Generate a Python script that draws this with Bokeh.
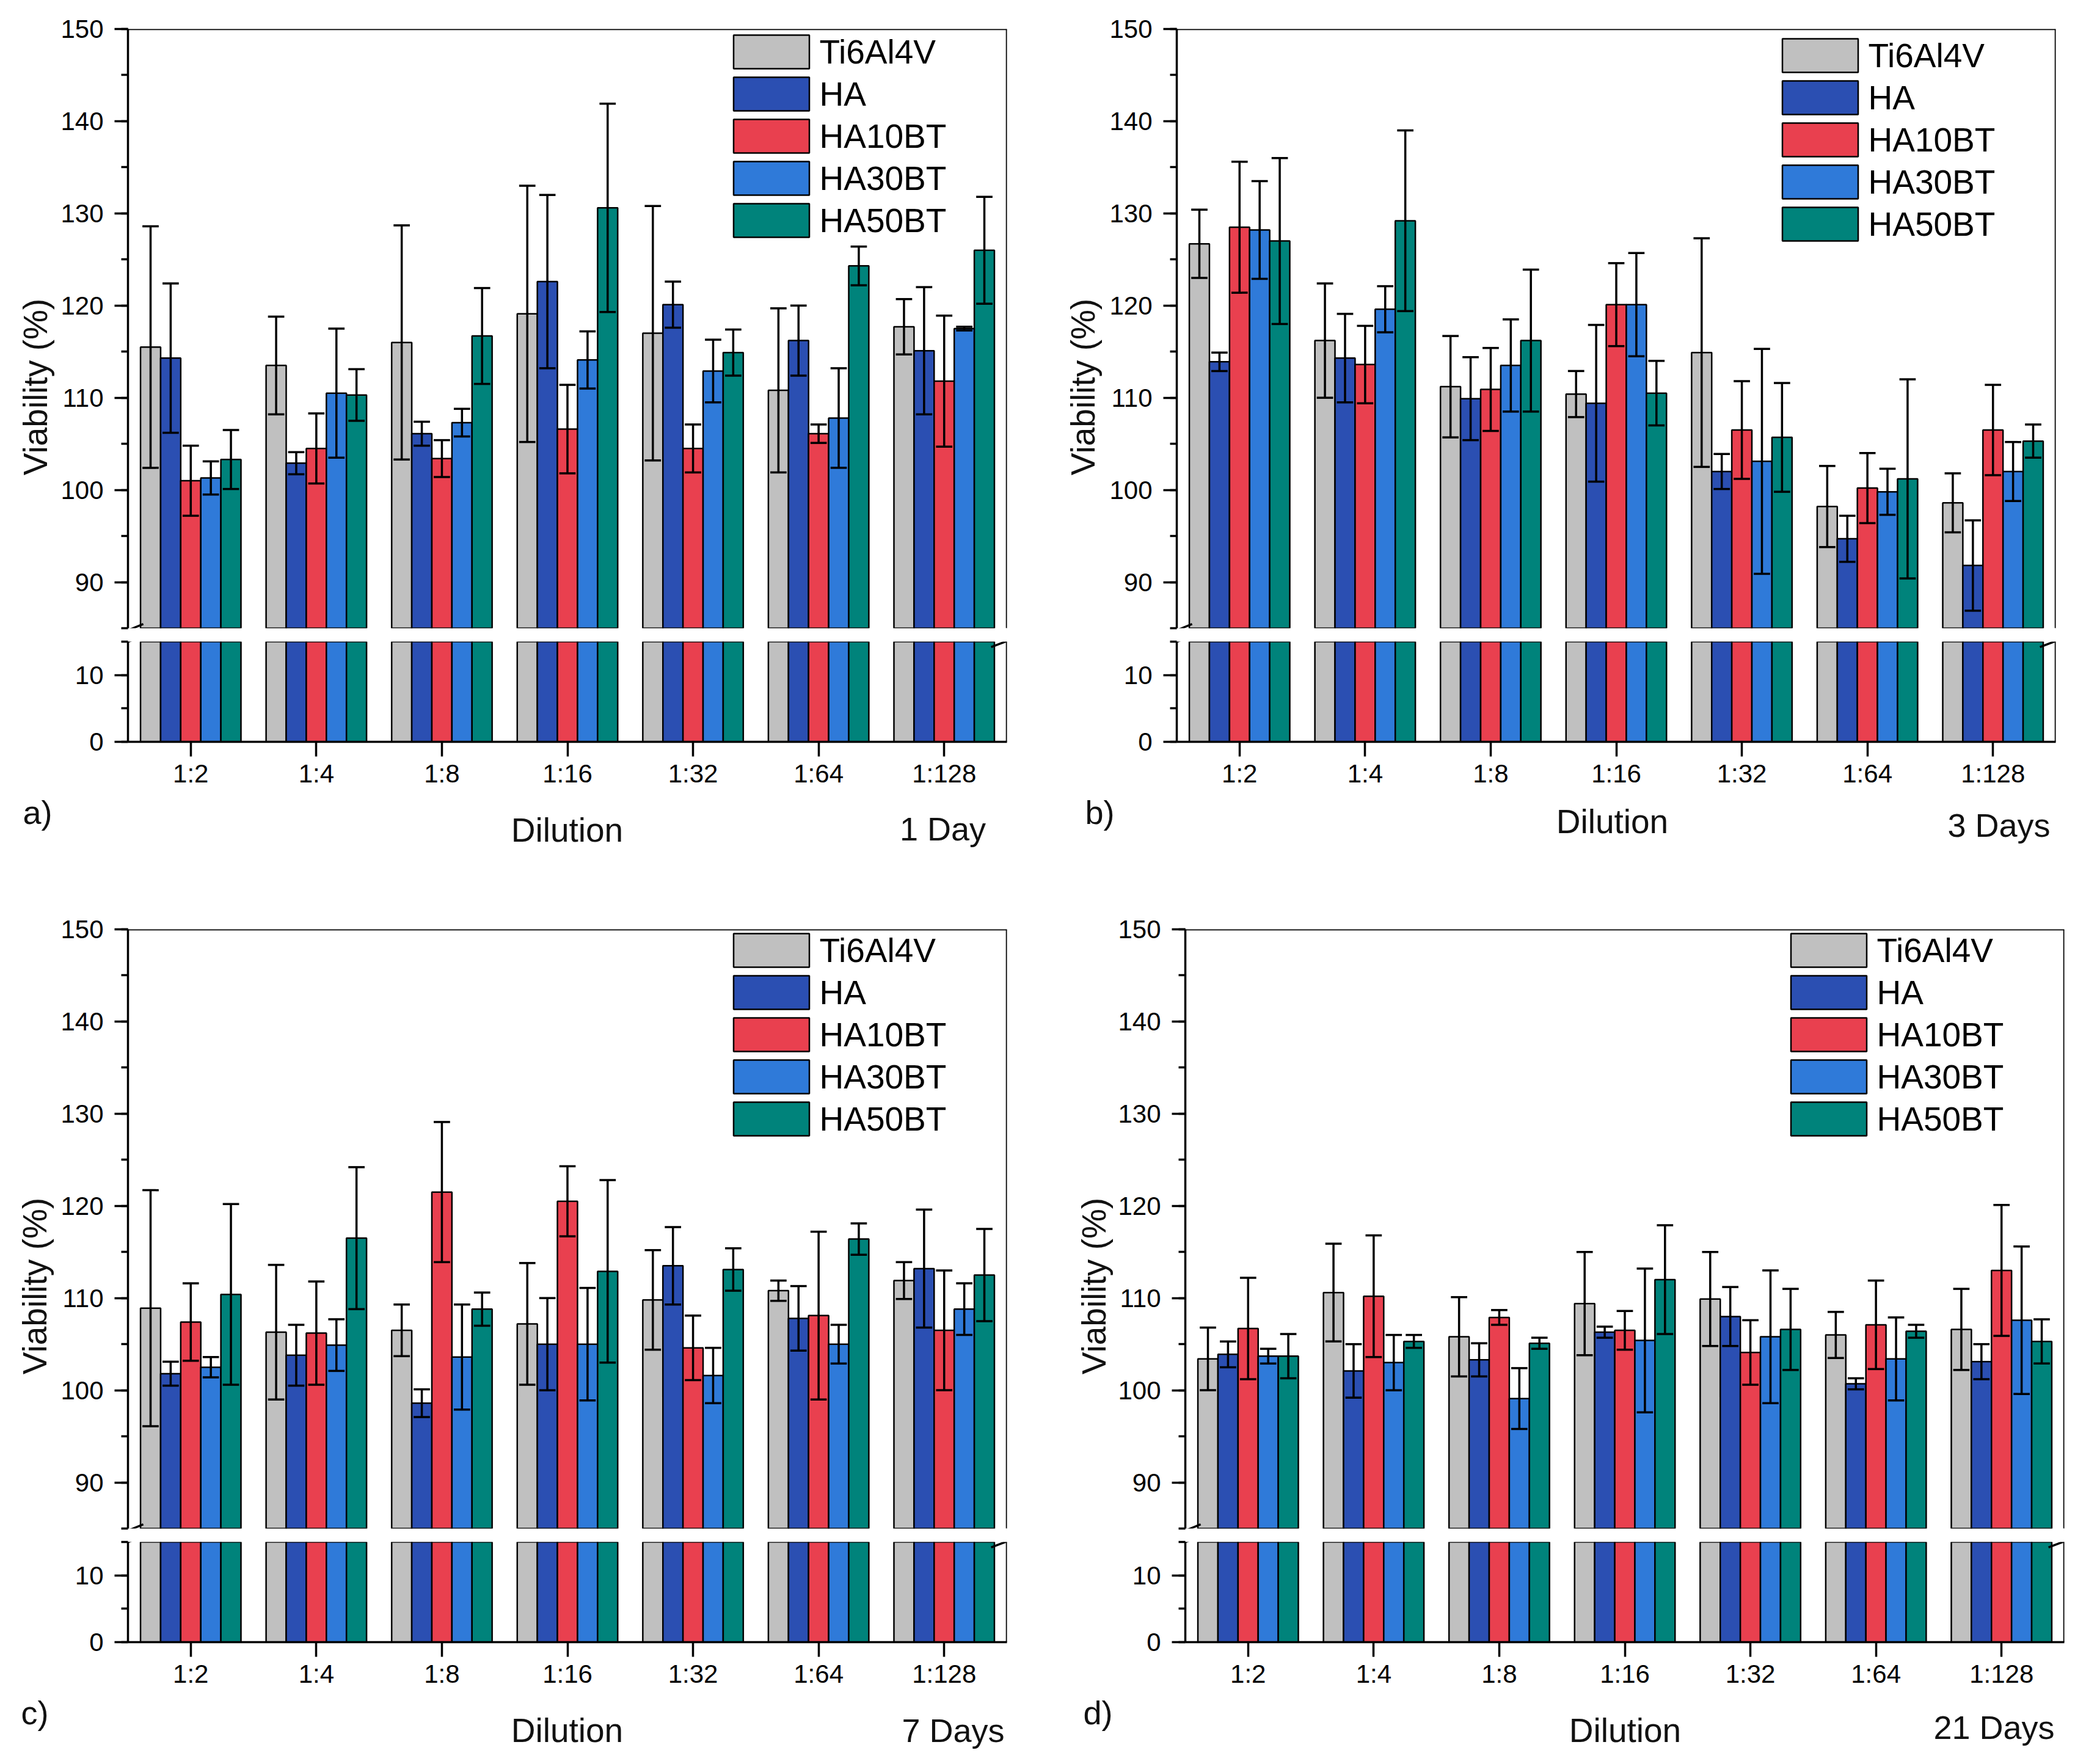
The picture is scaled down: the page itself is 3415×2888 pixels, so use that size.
import math
from bokeh.plotting import figure
from bokeh.models import (FactorRange, Range1d, ColumnDataSource, LinearAxis, CategoricalAxis,
                          SingleIntervalTicker, Legend, LegendItem, Arrow, Span)
from bokeh.core.properties import value
from bokeh.transform import dodge
from bokeh.layouts import row, column
from bokeh.embed import file_html
from bokeh.resources import INLINE

# ---------------- data ----------------
dilutions = ["1:2", "1:4", "1:8", "1:16", "1:32", "1:64", "1:128"]
materials = ["Ti6Al4V", "HA", "HA10BT", "HA30BT", "HA50BT"]
colors = ["#C0C0C0", "#2B4FB2", "#E9404F", "#2F7AD9", "#00837B"]

# a) 1 Day
day1_ti = [115.5, 113.5, 116.0, 119.1, 117.0, 110.8, 117.7]
day1_ti_err = [13.1, 5.3, 12.7, 13.9, 13.8, 8.9, 3.0]
day1_ha = [114.3, 102.9, 106.1, 122.6, 120.1, 116.2, 115.1]
day1_ha_err = [8.1, 1.2, 1.3, 9.4, 2.5, 3.8, 6.9]
day1_ha10 = [101.0, 104.5, 103.4, 106.6, 104.5, 106.1, 111.8]
day1_ha10_err = [3.8, 3.8, 2.0, 4.8, 2.6, 1.0, 7.1]
day1_ha30 = [101.3, 110.5, 107.3, 114.1, 112.9, 107.8, 117.5]
day1_ha30_err = [1.8, 7.0, 1.5, 3.1, 3.4, 5.4, 0.2]
day1_ha50 = [103.3, 110.3, 116.7, 130.6, 114.9, 124.3, 126.0]
day1_ha50_err = [3.2, 2.8, 5.2, 11.3, 2.5, 2.1, 5.8]

# b) 3 Days
day3_ti = [126.7, 116.2, 111.2, 110.4, 114.9, 98.2, 98.6]
day3_ti_err = [3.7, 6.2, 5.5, 2.5, 12.4, 4.4, 3.2]
day3_ha = [113.9, 114.3, 109.9, 109.4, 102.0, 94.7, 91.8]
day3_ha_err = [1.0, 4.8, 4.5, 8.5, 1.9, 2.5, 4.9]
day3_ha10 = [128.5, 113.6, 110.9, 120.1, 106.5, 100.2, 106.5]
day3_ha10_err = [7.1, 4.2, 4.5, 4.5, 5.3, 3.8, 4.9]
day3_ha30 = [128.2, 119.6, 113.5, 120.1, 103.1, 99.8, 102.0]
day3_ha30_err = [5.3, 2.5, 5.0, 5.6, 12.2, 2.5, 3.2]
day3_ha50 = [127.0, 129.2, 116.2, 110.5, 105.7, 101.2, 105.3]
day3_ha50_err = [9.0, 9.8, 7.7, 3.5, 5.9, 10.8, 1.8]

# c) 7 Days
day7_ti = [108.9, 106.3, 106.5, 107.2, 109.8, 110.8, 111.9]
day7_ti_err = [12.8, 7.3, 2.8, 6.6, 5.4, 1.1, 2.0]
day7_ha = [101.8, 103.8, 98.6, 105.0, 113.5, 107.8, 113.2]
day7_ha_err = [1.3, 3.3, 1.5, 5.0, 4.2, 3.5, 6.4]
day7_ha10 = [107.4, 106.2, 121.5, 120.5, 104.6, 108.1, 106.5]
day7_ha10_err = [4.2, 5.6, 7.6, 3.8, 3.5, 9.1, 6.5]
day7_ha30 = [102.5, 104.9, 103.6, 105.0, 101.6, 105.0, 108.8]
day7_ha30_err = [1.1, 2.8, 5.7, 6.1, 3.0, 2.1, 2.8]
day7_ha50 = [110.4, 116.5, 108.8, 112.9, 113.1, 116.4, 112.5]
day7_ha50_err = [9.8, 7.7, 1.8, 9.9, 2.3, 1.7, 5.0]

# d) 21 Days
day21_ti = [103.4, 110.6, 105.8, 109.4, 109.9, 106.0, 106.6]
day21_ti_err = [3.4, 5.3, 4.3, 5.6, 5.1, 2.5, 4.4]
day21_ha = [103.9, 102.1, 103.3, 106.3, 108.0, 100.7, 103.1]
day21_ha_err = [1.4, 2.9, 1.8, 0.6, 3.2, 0.6, 1.9]
day21_ha10 = [106.7, 110.2, 107.9, 106.5, 104.1, 107.1, 113.0]
day21_ha10_err = [5.5, 6.6, 0.8, 2.1, 3.5, 4.8, 7.1]
day21_ha30 = [103.7, 103.0, 99.1, 105.4, 105.8, 103.4, 107.6]
day21_ha30_err = [0.8, 3.0, 3.3, 7.8, 7.2, 4.5, 8.0]
day21_ha50 = [103.7, 105.3, 105.1, 112.0, 106.6, 106.4, 105.3]
day21_ha50_err = [2.4, 0.7, 0.6, 5.9, 4.4, 0.7, 2.4]

# ---------------- styling ----------------
FONT = "Liberation Sans"
FW = 1439          # frame width
UP_H = 981         # upper frame height (85..150)
LO_H = 164         # lower frame height (0..15)
GAP = 11           # half of the axis-break gap
LO_BOTTOM = 82
OFFSETS = [-0.32, -0.16, 0.0, 0.16, 0.32]
BAR_W = 0.16
CAP = 0.065
LW = 3.5
TXT = "#111111"


def plain_fig(w, h):
    f = figure(width=w, height=h, x_range=Range1d(0, w), y_range=Range1d(0, h), min_border=0,
               title=None, x_axis_location=None, y_axis_location=None, toolbar_location=None,
               output_backend="svg")
    f.outline_line_color = None
    f.grid.grid_line_color = None
    f.background_fill_color = "white"
    f.border_fill_color = "white"
    return f


def tick_axis(ax, tick_out, minor_out, standoff):
    ax.axis_line_width = LW
    ax.axis_line_color = "black"
    ax.major_tick_line_width = LW
    ax.minor_tick_line_width = LW
    ax.major_tick_in = 0
    ax.minor_tick_in = 0
    ax.major_tick_out = tick_out
    ax.minor_tick_out = minor_out
    ax.major_label_standoff = standoff
    ax.major_label_text_font = FONT
    ax.major_label_text_font_size = "42px"
    ax.major_label_text_color = "black"


def make_panel(means, errs, tag, day, g):
    xr = FactorRange(*dilutions)
    data = {"dil": dilutions}
    for k in range(5):
        data[f"m{k}"] = means[k]
        data[f"hi{k}"] = [a + b for a, b in zip(means[k], errs[k])]
        data[f"lo{k}"] = [a - b for a, b in zip(means[k], errs[k])]
    src = ColumnDataSource(data)

    common = dict(x_range=xr, frame_width=FW, x_axis_location=None, y_axis_location=None,
                  output_backend="svg", toolbar_location=None,
                  min_border_left=g["left"], min_border_right=g["right"])
    up = figure(y_range=Range1d(85, 150), frame_height=UP_H,
                min_border_top=g["top"], min_border_bottom=GAP, **common)
    lo = figure(y_range=Range1d(0, 15), frame_height=LO_H,
                min_border_top=GAP, min_border_bottom=LO_BOTTOM, **common)
    for p in (up, lo):
        p.outline_line_color = None
        p.grid.grid_line_color = None
        p.background_fill_color = "white"
        p.border_fill_color = "white"

    ya = LinearAxis(ticker=SingleIntervalTicker(interval=10, num_minor_ticks=2))
    tick_axis(ya, 22, 11, 18)
    up.add_layout(ya, "left")
    yb = LinearAxis(ticker=SingleIntervalTicker(interval=10, num_minor_ticks=2))
    tick_axis(yb, 22, 11, 18)
    lo.add_layout(yb, "left")
    xa = CategoricalAxis()
    tick_axis(xa, 24, 0, 4)
    lo.add_layout(xa, "below")

    # frame lines (top and right)
    up.add_layout(Span(location=150, dimension="width", line_color="black", line_width=LW))
    up.add_layout(Span(location=7, dimension="height", line_color="black", line_width=LW))
    lo.add_layout(Span(location=7, dimension="height", line_color="black", line_width=LW))

    # bars
    items = []
    for k in range(5):
        kw = dict(x=dodge("dil", OFFSETS[k], range=xr), top=f"m{k}", bottom=0, width=BAR_W,
                  fill_color=colors[k], line_color="black", line_width=2.5, source=src)
        r = up.vbar(**kw)
        lo.vbar(**kw)
        items.append(LegendItem(label=value(materials[k]), renderers=[r]))

    # error bars
    for k in range(5):
        off = OFFSETS[k]
        up.segment(x0=dodge("dil", off, range=xr), x1=dodge("dil", off, range=xr),
                   y0=f"lo{k}", y1=f"hi{k}", line_color="black", line_width=LW, source=src)
        for col in (f"lo{k}", f"hi{k}"):
            up.segment(x0=dodge("dil", off - CAP, range=xr), x1=dodge("dil", off + CAP, range=xr),
                       y0=col, y1=col, line_color="black", line_width=LW, source=src)

    leg = Legend(items=items, location=g["leg"], glyph_width=155, glyph_height=69,
                 label_standoff=2, spacing=0, padding=0, margin=0,
                 label_text_font=FONT, label_text_font_size="55px", label_text_color="black",
                 border_line_color=None, background_fill_alpha=0)
    up.add_layout(leg)

    # axis break marks
    for xs, xe in ((-0.102, 0.122), (6.874, 7.112)):
        up.add_layout(Arrow(end=None, x_start=xs, y_start=84.2, x_end=xe, y_end=85.46,
                            line_width=LW, line_color="black"))
        lo.add_layout(Arrow(end=None, x_start=xs, y_start=14.18, x_end=xe, y_end=15.91,
                            line_width=LW, line_color="black"))

    # y-axis title, centred on both parts
    up_total = g["top"] + UP_H + GAP
    lo_total = GAP + LO_H + LO_BOTTOM
    ylab = plain_fig(g["ylab_w"], up_total + lo_total)
    ylab.text(x=[g["ylab_x"]], y=[LO_BOTTOM + g["ylab_y"]], text=["Viability (%)"],
              angle=math.pi / 2, text_align="center", text_baseline="middle", text_color=TXT,
              text_font=value(FONT), text_font_size=value("55px"))

    total_w = g["ylab_w"] + g["left"] + FW + g["right"]
    cap = plain_fig(total_w, g["cap_h"])
    H = g["cap_h"]
    tx, ty = g["tag"]
    cap.text(x=[tx], y=[H - ty], text=[tag], text_align="left", text_baseline="alphabetic",
             text_color=TXT, text_font=value(FONT), text_font_size=value("54px"))
    dx, dy = g["dil"]
    cap.text(x=[dx], y=[H - dy], text=["Dilution"], text_align="center", text_baseline="alphabetic",
             text_color=TXT, text_font=value(FONT), text_font_size=value("55px"))
    ex, ey = g["day"]
    cap.text(x=[ex], y=[H - ey], text=[day], text_align="center", text_baseline="alphabetic",
             text_color=TXT, text_font=value(FONT), text_font_size=value("54px"))

    return column(row(ylab, column(up, lo)), cap)


# ylab_y: centre of the y title above the bottom of the lower frame (px)
geo_a = dict(ylab_w=96, ylab_x=57, ylab_y=581, left=111, right=69, top=47, cap_h=104,
             leg=(975.5, 633), tag=(37, 33), dil=(928, 62), day=(1543, 60))
geo_b = dict(ylab_w=96, ylab_x=55, ylab_y=581, left=111, right=54, top=47, cap_h=104,
             leg=(975.5, 627), tag=(59, 33), dil=(922, 48), day=(1555, 54))
geo_c = dict(ylab_w=96, ylab_x=56, ylab_y=583, left=111, right=69, top=121, cap_h=116,
             leg=(975.5, 636), tag=(34, 33), dil=(928, 62), day=(1560, 62))
geo_d = dict(ylab_w=110, ylab_x=73, ylab_y=583, left=113, right=38, top=121, cap_h=116,
             leg=(975.5, 636), tag=(56, 33), dil=(943, 62), day=(1547, 57))

pa = make_panel([day1_ti, day1_ha, day1_ha10, day1_ha30, day1_ha50],
                [day1_ti_err, day1_ha_err, day1_ha10_err, day1_ha30_err, day1_ha50_err],
                "a)", "1 Day", geo_a)
pb = make_panel([day3_ti, day3_ha, day3_ha10, day3_ha30, day3_ha50],
                [day3_ti_err, day3_ha_err, day3_ha10_err, day3_ha30_err, day3_ha50_err],
                "b)", "3 Days", geo_b)
pc = make_panel([day7_ti, day7_ha, day7_ha10, day7_ha30, day7_ha50],
                [day7_ti_err, day7_ha_err, day7_ha10_err, day7_ha30_err, day7_ha50_err],
                "c)", "7 Days", geo_c)
pd = make_panel([day21_ti, day21_ha, day21_ha10, day21_ha30, day21_ha50],
                [day21_ti_err, day21_ha_err, day21_ha10_err, day21_ha30_err, day21_ha50_err],
                "d)", "21 Days", geo_d)

layout = column(row(pa, pb), row(pc, pd))
open("out.html", "w").write(file_html(layout, INLINE))
